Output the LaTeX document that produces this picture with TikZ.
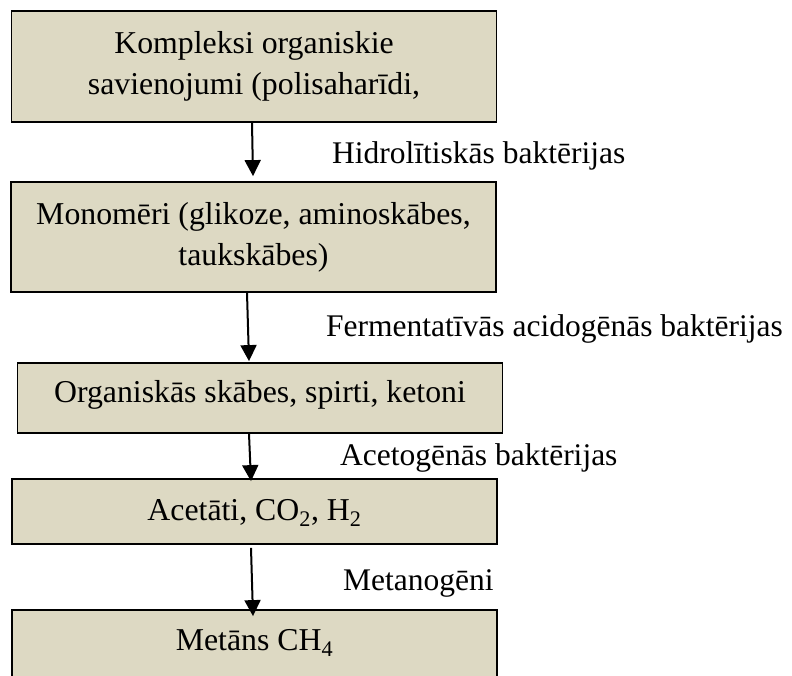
\documentclass[tikz,border=0pt]{standalone}
\usepackage{fontspec}
\setmainfont{Liberation Serif}
\usetikzlibrary{arrows.meta,calc}
\definecolor{boxfill}{HTML}{DDD9C3}
\begin{document}
\begin{tikzpicture}[x=1pt,y=-1pt,
  stagebox/.style={draw=black,line width=1.8pt,fill=boxfill,minimum width=485pt,
    align=center,inner sep=0pt,font=\fontsize{31.8}{41}\selectfont},
  lbl/.style={anchor=base west,inner sep=0pt,font=\fontsize{31.5}{41}\selectfont},
  arr/.style={line width=2pt,-{Triangle[width=16pt,length=16pt]}}]
\useasboundingbox (0,0) rectangle (792,675);
\clip (0,0) rectangle (792,675);
\node[stagebox,minimum height=111pt] (b1) at (254,66.5) {Kompleksi organiskie\\savienojumi (polisaharīdi,};
\node[stagebox,minimum height=110pt] (b2) at (253.5,237) {Monomēri (glikoze, aminoskābes,\\taukskābes)};
\node[stagebox,minimum height=70pt,text height=22pt,text depth=14pt] (b3) at (260,398) {Organiskās skābes, spirti, ketoni};
\node[stagebox,minimum height=65pt,text height=22pt,text depth=5pt] (b4) at (254.5,511.5) {Acetāti, CO\textsubscript{2}, H\textsubscript{2}};
\node[stagebox,minimum height=80pt,text height=20pt,text depth=20pt] (b5) at (254.5,650) {Metāns CH\textsubscript{4}};
\node[lbl] (l1) at (332,163) {Hidrolītiskās baktērijas};
\node[lbl] (l2) at (326,336) {Fermentatīvās acidogēnās baktērijas};
\node[lbl] (l3) at (340,465) {Acetogēnās baktērijas};
\node[lbl] (l4) at (343,590) {Metanogēni};
\draw[arr] ([xshift=-2pt]b1.south) -- ([xshift=-0.5pt,yshift=5pt]b2.north);
\draw[arr] ([xshift=-6.5pt]b2.south) -- ([xshift=-11pt,yshift=1pt]b3.north);
\draw[arr] ([xshift=-11pt]b3.south) -- ([xshift=-3.5pt,yshift=-3pt]b4.north);
\draw[arr] ([xshift=-3.5pt,yshift=-3pt]b4.south) -- ([xshift=-1.5pt,yshift=-7pt]b5.north);
\end{tikzpicture}
\end{document}
